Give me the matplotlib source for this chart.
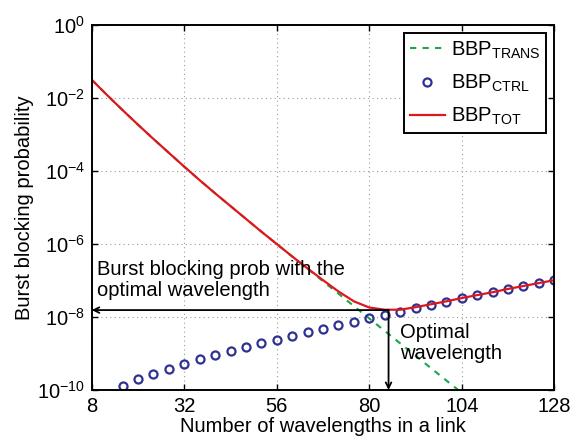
import matplotlib
matplotlib.use("Agg")
import matplotlib.pyplot as plt
import numpy as np

plt.rcParams['font.family'] = ['Liberation Sans', 'DejaVu Sans']
plt.rcParams['mathtext.fontset'] = 'custom'
plt.rcParams['mathtext.rm'] = 'Liberation Sans'
plt.rcParams['mathtext.it'] = 'Liberation Sans:italic'
plt.rcParams['mathtext.bf'] = 'Liberation Sans:bold'

# wavelengths (x) and log10 of blocking probabilities
w_trans = [8, 12, 16, 20, 24, 28, 32, 36, 40, 44, 48, 52, 56, 60, 64,
           68, 72, 76, 80, 84, 88, 92, 96, 100, 104]
log_trans = [-1.50, -1.92, -2.33, -2.73, -3.12, -3.50, -3.88, -4.25, -4.61,
             -4.96, -5.31, -5.66, -6.00, -6.34, -6.68, -7.02, -7.36, -7.70,
             -8.04, -8.38, -8.72, -9.06, -9.40, -9.74, -10.08]

w_ctrl = [16, 20, 24, 28, 32, 36, 40, 44, 48, 52, 56, 60, 64, 68, 72,
          76, 80, 84, 88, 92, 96, 100, 104, 108, 112, 116, 120, 124, 128]
log_ctrl = [-9.89, -9.71, -9.57, -9.43, -9.29, -9.16, -9.05, -8.94, -8.83,
            -8.72, -8.62, -8.52, -8.42, -8.33, -8.23, -8.14, -8.04, -7.94,
            -7.86, -7.75, -7.66, -7.58, -7.49, -7.41, -7.32, -7.23, -7.15,
            -7.07, -6.99]

w_tot = [8, 12, 16, 20, 24, 28, 32, 36, 40, 44, 48, 52, 56, 60, 64, 68,
         72, 76, 80, 84, 88, 92, 96, 100, 104, 108, 112, 116, 120, 124, 128]
log_tot = [-1.50, -1.92, -2.33, -2.73, -3.12, -3.50, -3.88, -4.25, -4.61,
           -4.96, -5.31, -5.66, -6.00, -6.34, -6.67, -6.99, -7.30, -7.57,
           -7.74, -7.80, -7.80, -7.73, -7.65, -7.57, -7.48, -7.40, -7.32,
           -7.23, -7.15, -7.07, -6.99]

opt_w = 85
opt_log = -7.81

fig = plt.figure(figsize=(5.81, 4.46), dpi=100)
ax = fig.add_axes([0.158, 0.1256, 0.796, 0.818])

ax.semilogy(w_trans, 10.0 ** np.array(log_trans), '--', color='#1aa64a',
            lw=1.5, dashes=(3, 3), label='BBP$_{\\mathrm{TRANS}}$')
ax.semilogy(w_ctrl, 10.0 ** np.array(log_ctrl), 'o', mfc='none',
            mec='#2e3192', mew=1.6, ms=5.8, label='BBP$_{\\mathrm{CTRL}}$')
ax.semilogy(w_tot, 10.0 ** np.array(log_tot), '-', color='#e0161c',
            lw=1.6, label='BBP$_{\\mathrm{TOT}}$')

ax.set_xlim(8, 128)
ax.set_ylim(1e-10, 1)
ax.set_xticks([8, 32, 56, 80, 104, 128])
ax.set_yticks([1e-10, 1e-8, 1e-6, 1e-4, 1e-2, 1])
ax.minorticks_off()
ax.tick_params(direction='in', top=True, right=True, labelsize=14.5,
               length=4, width=1, pad=5)
ax.grid(True, ls=(0, (1, 3)), color='#9a9a9a', lw=0.8)
for s in ax.spines.values():
    s.set_linewidth(1.4)

ax.set_xlabel('Number of wavelengths in a link', fontsize=14.5, labelpad=1)
ax.set_ylabel('Burst blocking probability', fontsize=14.5, labelpad=2)

# arrows from optimum
ax.annotate('', xy=(8, 10 ** opt_log), xytext=(opt_w, 10 ** opt_log),
            arrowprops=dict(arrowstyle='->', color='black', lw=1.3,
                            shrinkA=0, shrinkB=0))
ax.annotate('', xy=(opt_w, 1e-10), xytext=(opt_w, 10 ** opt_log),
            arrowprops=dict(arrowstyle='->', color='black', lw=1.3,
                            shrinkA=0, shrinkB=0))

ax.text(9.3, 10 ** -6.44, 'Burst blocking prob with the\noptimal wavelength',
        fontsize=14.5, va='top', ha='left', linespacing=1.15)
ax.text(88, 10 ** -8.16, 'Optimal\nwavelength', fontsize=14.5, va='top',
        ha='left', linespacing=1.15)

leg = ax.legend(loc='upper right', fontsize=14.5, fancybox=False,
                edgecolor='black', framealpha=1, handlelength=1.7,
                borderaxespad=0.4, labelspacing=0.6, handletextpad=0.3,
                borderpad=0.3)
leg.get_frame().set_linewidth(1.4)

fig.savefig('out.png', dpi=100)
